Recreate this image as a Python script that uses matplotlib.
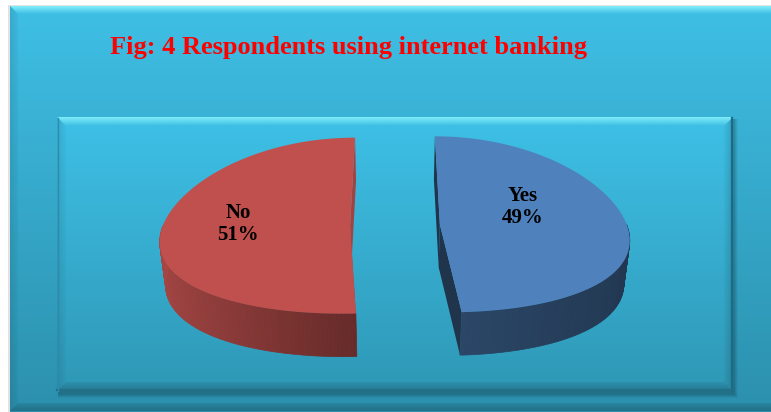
import numpy as np
import matplotlib.pyplot as plt
from matplotlib.colors import to_rgb
from matplotlib.patches import Polygon, Rectangle

# --- data ---
title = 'Fig: 4 Respondents using internet banking'
labels = ['Yes', 'No']
shares = [49, 51]

slice_colors = ['#4f81bd', '#c0504d']
# label placement inside each slice: (radius fraction, angle clockwise from 12 o'clock)
label_rho = [0.50, 0.60]
label_ang = [67, 272]

W, H = 771, 412
fig = plt.figure(figsize=(W / 100, H / 100), dpi=100)
ax = fig.add_axes([0, 0, 1, 1])
ax.axis('off')


def clip_image(img, poly, z):
    xs = [p[0] for p in poly]
    ys = [p[1] for p in poly]
    im = ax.imshow(img, extent=(min(xs), max(xs), max(ys), min(ys)),
                   aspect='auto', zorder=z, interpolation='bilinear')
    patch = Polygon(poly, closed=True, facecolor='none', edgecolor='none')
    ax.add_patch(patch)
    im.set_clip_path(patch)


def gradient_fill(poly, c0, c1, z=1):
    c0, c1 = np.array(to_rgb(c0)), np.array(to_rgb(c1))
    t = np.linspace(0, 1, 256)[:, None, None]
    img = c0 * (1 - t) + c1 * t
    clip_image(img, poly, z)


def shade_band(poly, color, a0, a1, vertical=True, z=2):
    rgb = to_rgb(color)
    t = np.linspace(a0, a1, 64)
    img = np.zeros((64, 1, 4)) if vertical else np.zeros((1, 64, 4))
    img[..., :3] = rgb
    img[..., 3] = t.reshape(img.shape[:2])
    clip_image(img, poly, z)


# --- background frame ---
ax.add_patch(Rectangle((0, 0), W, H, color='white', zorder=0))
ax.add_patch(Rectangle((8, 5), W, H, facecolor='#e2e2e2', edgecolor='none', zorder=0.5))
gradient_fill([(10, 6), (W, 6), (W, H), (10, H)], '#3fbfe5', '#2c90ad', z=1)
shade_band([(10, 6), (W, 6), (W, 14), (18, 14)], '#8ff8ff', 0.85, 0.0, z=2)
shade_band([(10, 6), (18, 14), (18, 403), (10, 411)], '#000000', 0.10, 0.03, vertical=False, z=2)
shade_band([(10, 411), (18, 403), (W, 403), (W, 411)], '#000000', 0.08, 0.22, z=2)

# inner panel with a soft drop shadow
x0, y0, x1, y1, b = 57, 117, 733, 391, 9
for d, a in [(5, 0.04), (4, 0.05), (3, 0.06), (2, 0.08)]:
    ax.add_patch(Rectangle((x0 + 1, y0 + 2), x1 - x0 + d - 1, y1 - y0 + d,
                           facecolor='black', alpha=a, edgecolor='none', zorder=3))
gradient_fill([(x0, y0), (x1, y0), (x1, y1), (x0, y1)], '#3ec0e6', '#2f98b6', z=4)
shade_band([(x0, y0), (x1, y0), (x1 - b, y0 + b), (x0 + b, y0 + b)], '#8ff8ff', 0.8, 0.0, z=5)
shade_band([(x0, y0), (x0 + b, y0 + b), (x0 + b, y1 - b), (x0, y1)], '#000000', 0.10, 0.02, vertical=False, z=5)
shade_band([(x1, y0), (x1, y1), (x1 - b, y1 - b), (x1 - b, y0 + b)], '#000000', 0.02, 0.16, vertical=False, z=5)
shade_band([(x0, y1), (x0 + b, y1 - b), (x1 - b, y1 - b), (x1, y1)], '#000000', 0.06, 0.20, z=5)
ax.plot([x1 - 0.8, x1 - 0.8], [y0 + 1, y1], color='#1d6a82', lw=1.6, zorder=6)
ax.plot([x0, x1], [y1 - 0.8, y1 - 0.8], color='#226f87', lw=1.6, zorder=6)
ax.plot([x0 + 0.5, x0 + 0.5], [y0 + 1, y1], color='#2b8cab', lw=1.0, zorder=6)

# --- exploded 3-D pie ---
CX, CY = 395, 225
RX, RY = 187, 88
DEPTH = 43
EXPLODE = 0.24
BOTTOM_SHRINK = 0.975


def project(X, Y, bottom=False):
    X = np.asarray(X, float)
    Y = np.asarray(Y, float)
    # back of the disc is drawn narrower than the front
    scale = 1 - 0.145 * Y + 0.035 * Y ** 2
    xs = CX + RX * X * scale
    ys = CY - RY * Y
    if bottom:
        xs = CX + (xs - CX) * BOTTOM_SHRINK
        ys = ys + DEPTH
    return xs, ys


def wall_shade(t):
    s = np.sin(np.radians(t))
    return 0.55 - 0.13 * s if s > 0 else 0.55 - 0.32 * s


def darker(color, f):
    return tuple(np.clip(np.array(to_rgb(color)) * f, 0, 1))


edges = np.concatenate([[0], np.cumsum(shares)]) / sum(shares) * 360

for i, (lab, val) in enumerate(zip(labels, shares)):
    a0, a1 = edges[i], edges[i + 1]
    tm = np.radians((a0 + a1) / 2)
    ex, ey = EXPLODE * np.sin(tm), EXPLODE * np.cos(tm)
    base = slice_colors[i]

    def rim(t, rho=1.0):
        t = np.radians(t)
        return rho * np.sin(t) + ex, rho * np.cos(t) + ey

    # flat cut faces
    for a, sign in ((a0, -1), (a1, 1)):
        nx = sign * np.cos(np.radians(a))
        px, py = rim(a)
        tx, ty = project([ex, px], [ey, py])
        bx, by = project([ex, px], [ey, py], bottom=True)
        face = np.column_stack([np.r_[tx, bx[::-1]], np.r_[ty, by[::-1]]])
        ax.add_patch(Polygon(face, closed=True, facecolor=darker(base, 0.62 + 0.22 * nx),
                             edgecolor='none', zorder=10))

    # curved outer wall, front half only
    w0, w1 = max(a0, 90), min(a1, 270)
    if w1 > w0:
        ts = np.linspace(w0, w1, 90)
        for ta, tb in zip(ts[:-1], ts[1:]):
            X, Y = rim(np.array([ta, tb]))
            tx, ty = project(X, Y)
            bx, by = project(X, Y, bottom=True)
            strip = np.column_stack([np.r_[tx, bx[::-1]], np.r_[ty, by[::-1]]])
            c = darker(base, wall_shade((ta + tb) / 2))
            ax.add_patch(Polygon(strip, closed=True, facecolor=c, edgecolor=c,
                                 lw=0.5, zorder=11))

    # top face
    X, Y = rim(np.linspace(a0, a1, 200))
    tx, ty = project(np.r_[ex, X], np.r_[ey, Y])
    ax.add_patch(Polygon(np.column_stack([tx, ty]), closed=True, facecolor=base,
                         edgecolor='none', zorder=12))

    lx, ly = project(*rim(label_ang[i], label_rho[i]))
    ax.text(float(lx), float(ly), f'{lab}\n{val}%', ha='center', va='center',
            fontsize=15, fontweight='bold', family='Liberation Serif',
            color='black', linespacing=1.15, zorder=13)

ax.text(110, 47, title, ha='left', va='center', color='#ff0000', fontsize=19,
        fontweight='bold', family='Liberation Serif', zorder=13)

ax.set_xlim(0, W)
ax.set_ylim(H, 0)
fig.savefig('out.png', dpi=100)
